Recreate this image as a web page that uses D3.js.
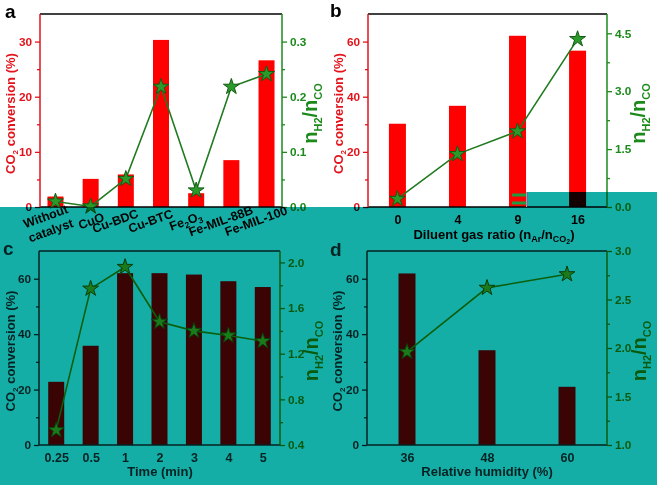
<!DOCTYPE html>
<html><head><meta charset="utf-8">
<script src="https://cdn.jsdelivr.net/npm/d3@7"></script>
<style>
body{margin:0;background:#fff}
svg{display:block;font-family:"Liberation Sans",Arial,sans-serif;font-weight:bold}
</style>
</head><body>
<svg id="chart" width="657" height="485"></svg>
<script>
// ---------- data ----------
const catA = ["Without catalyst","CuO","Cu-BDC","Cu-BTC","Fe2O3","Fe-MIL-88B","Fe-MIL-100"];
const convA = [1.9, 5.1, 5.9, 30.3, 2.5, 8.5, 26.6];
const ratioA = [0.010, 0.001, 0.051, 0.218, 0.030, 0.218, 0.241];

const catB = ["0","4","9","16"];
const convB = [30.2, 36.7, 62.1, 56.7];
const ratioB = [0.21, 1.37, 1.96, 4.35];

const catC = ["0.25","0.5","1","2","3","4","5"];
const convC = [22.8, 35.8, 62.0, 62.0, 61.5, 59.1, 57.0];
const ratioC = [0.53, 1.77, 1.96, 1.48, 1.40, 1.36, 1.31];

const catD = ["36","48","60"];
const convD = [61.9, 34.2, 21.0];
const ratioD = [1.96, 2.62, 2.76];

const ticksLeftA = [0,10,20,30], minorLeftA = [5,15,25];
const ticksRightA = [0,0.1,0.2,0.3], minorRightA = [0.05,0.15,0.25];
const ticksLeft = [0,20,40,60], minorLeft = [10,30,50];
const ticksRightB = [0,1.5,3.0,4.5], minorRightB = [0.75,2.25,3.75];
const ticksRightC = [0.4,0.8,1.2,1.6,2.0], minorRightC = [0.6,1.0,1.4,1.8];
const ticksRightD = [1.0,1.5,2.0,2.5,3.0], minorRightD = [1.25,1.75,2.25,2.75];

const svg = d3.select("#chart");
svg.append("rect").attr("width",657).attr("height",485).attr("fill","#fff");

function panel(c){
  const g = svg.append("g");
  const x = d3.scalePoint().domain(c.cats).range([c.x0, c.x1]).padding(c.pad);
  const yL = d3.scaleLinear().domain(c.ld).range([c.y1, c.y0]);
  const yR = d3.scaleLinear().domain(c.rd).range([c.y1, c.y0]);
  const col = c.col;

  // bars
  g.selectAll(".bar").data(c.conv).enter().append("rect")
    .attr("x",(d,i)=>x(c.cats[i]) - c.bw/2)
    .attr("width", c.bw)
    .attr("y", d=>yL(d))
    .attr("height", d=>yL(0)-yL(d))
    .attr("fill", col.bar);

  // frame lines
  g.append("line").attr("x1",c.x0).attr("x2",c.x1).attr("y1",c.y0).attr("y2",c.y0).attr("stroke",col.frame).attr("stroke-width",1.5);
  g.append("line").attr("x1",c.x0).attr("x2",c.x1).attr("y1",c.y1).attr("y2",c.y1).attr("stroke",col.frame).attr("stroke-width",1.5);

  // left axis
  const la = g.append("g").attr("transform",`translate(${c.x0},0)`)
    .call(d3.axisLeft(yL).tickValues(c.lt).tickSize(5).tickPadding(3).tickFormat(d3.format("d")));
  const lm = g.append("g").attr("transform",`translate(${c.x0},0)`)
    .call(d3.axisLeft(yL).tickValues(c.lm).tickSize(3).tickFormat(""));
  [la,lm].forEach(a=>{ a.select(".domain").remove(); a.selectAll("line").attr("stroke",col.left).attr("stroke-width",1.3); });
  la.selectAll("text").attr("fill",col.leftText).attr("font-size",11.8).attr("font-weight","bold").attr("font-family","Liberation Sans, Arial, sans-serif");
  g.append("line").attr("x1",c.x0).attr("x2",c.x0).attr("y1",c.y0).attr("y2",c.y1).attr("stroke",col.left).attr("stroke-width",1.5);

  // right axis
  const ra = g.append("g").attr("transform",`translate(${c.x1},0)`)
    .call(d3.axisRight(yR).tickValues(c.rt).tickSize(5).tickPadding(3).tickFormat(d3.format(".1f")));
  const rm = g.append("g").attr("transform",`translate(${c.x1},0)`)
    .call(d3.axisRight(yR).tickValues(c.rm).tickSize(3).tickFormat(""));
  [ra,rm].forEach(a=>{ a.select(".domain").remove(); a.selectAll("line").attr("stroke",col.right).attr("stroke-width",1.3); });
  ra.selectAll("text").attr("fill",col.right).attr("font-size",11.8).attr("font-weight","bold").attr("font-family","Liberation Sans, Arial, sans-serif");
  g.append("line").attr("x1",c.x1).attr("x2",c.x1).attr("y1",c.y0).attr("y2",c.y1).attr("stroke",col.right).attr("stroke-width",1.5);

  // x tick labels
  if(c.rotLabels){
    c.cats.forEach((cat,i)=>{
      const cx = x(cat);
      if(cat === "Without catalyst"){
        const t = g.append("text").attr("transform",`translate(${cx-6},${227}) rotate(-20)`)
          .attr("text-anchor","middle").attr("font-size",12.5).attr("fill",col.text);
        t.append("tspan").attr("x",0).attr("y",-7).text("Without");
        t.append("tspan").attr("x",0).attr("y",8).text("catalyst");
      } else {
        const off = cat === "CuO" ? 2 : -9;
        const t = g.append("text").attr("transform",`translate(${cx+off},${225}) rotate(-20)`)
          .attr("text-anchor","middle").attr("font-size",12.5).attr("fill",col.text);
        if(cat === "Fe2O3"){
          t.append("tspan").text("Fe");
          t.append("tspan").attr("dy",3).attr("font-size",8.5).text("2");
          t.append("tspan").attr("dy",-3).text("O");
          t.append("tspan").attr("dy",3).attr("font-size",8.5).text("3");
        } else t.text(cat);
      }
    });
  } else {
    const xa = g.append("g").attr("transform",`translate(0,${c.y1})`)
      .call(d3.axisBottom(x).tickSize(0).tickPadding(8));
    xa.select(".domain").remove();
    xa.selectAll("text").attr("fill",col.text).attr("font-size",12.5).attr("font-weight","bold").attr("font-family","Liberation Sans, Arial, sans-serif");
  }

  // line + stars
  const pts = c.ratio.map((v,i)=>[x(c.cats[i]), yR(v)]);
  g.append("path").attr("d", d3.line()(pts)).attr("fill","none").attr("stroke",col.line).attr("stroke-width",1.6);
  g.selectAll(".star").data(pts).enter().append("path")
    .attr("transform",d=>`translate(${d[0]},${d[1]})`)
    .attr("d", d3.symbol(d3.symbolStar, 78)())
    .attr("fill", col.starFill).attr("stroke", col.starStroke).attr("stroke-width",1);

  // axis titles
  const my = (c.y0 + c.y1)/2 + 3;
  const lt = g.append("text").attr("transform",`translate(${c.ltx},${my}) rotate(-90)`)
    .attr("text-anchor","middle").attr("font-size",13).attr("fill",col.leftText);
  lt.append("tspan").text("CO");
  lt.append("tspan").attr("dy",3).attr("font-size",8).text("2");
  lt.append("tspan").attr("dy",-3).text(" conversion (%)");

  const rtt = g.append("text").attr("transform",`translate(${c.rtx},${my}) rotate(-90)`)
    .attr("text-anchor","middle").attr("font-size",20).attr("fill",col.right);
  rtt.append("tspan").text("n");
  rtt.append("tspan").attr("dy",5).attr("font-size",11).text("H2");
  rtt.append("tspan").attr("dy",-5).text("/n");
  rtt.append("tspan").attr("dy",5).attr("font-size",11).text("CO");

  if(c.xTitle){
    const xt = g.append("text").attr("x",c.xtx).attr("y",c.xty).attr("text-anchor","middle")
      .attr("font-size",13).attr("fill",col.text);
    c.xTitle(xt);
  }
  g.append("text").attr("x",c.lx).attr("y",c.ly).attr("font-size",19).attr("fill",col.text).text(c.letter);
}

const colTop = {bar:"#ff0000", frame:"#000", left:"#e3131b", leftText:"#e3131b", right:"#1b8a1b",
  line:"#1f7a1f", starFill:"#2a9a2a", starStroke:"#145a14", text:"#000"};
const colBot = {bar:"#3a0405", frame:"#042020", left:"#042020", leftText:"#052222", right:"#0a5a0e",
  line:"#0b5e0b", starFill:"#1b7a1b", starStroke:"#0a3e0a", text:"#052222"};

panel({x0:40,x1:282,y0:14,y1:207,cats:catA,conv:convA,ratio:ratioA,pad:0.44,bw:16,
  ld:[0,35],lt:ticksLeftA,lm:minorLeftA,rd:[0,0.35],rt:ticksRightA,rm:minorRightA,
  col:colTop,rotLabels:true,ltx:15,rtx:317,letter:"a",lx:5,ly:18});

panel({x0:368,x1:607,y0:14,y1:207,cats:catB,conv:convB,ratio:ratioB,pad:0.49,bw:17,
  ld:[0,70],lt:ticksLeft,lm:minorLeft,rd:[0,5],rt:ticksRightB,rm:minorRightB,
  col:colTop,ltx:343,rtx:645,letter:"b",lx:330,ly:17,
  xtx:494,xty:239,xTitle:t=>{
    t.append("tspan").text("Diluent gas ratio (n");
    t.append("tspan").attr("dy",3).attr("font-size",9).text("Ar");
    t.append("tspan").attr("dy",-3).text("/n");
    t.append("tspan").attr("dy",3).attr("font-size",9).text("CO");
    t.append("tspan").attr("dy",2).attr("font-size",7).text("2");
    t.append("tspan").attr("dy",-5).text(")");
  }});

// small glitch marks in panel b
svg.append("rect").attr("x",512).attr("y",193.5).attr("width",14).attr("height",3).attr("fill","#1f9a40");
svg.append("rect").attr("x",512).attr("y",201.5).attr("width",14).attr("height",3).attr("fill","#1f9a40");
svg.append("rect").attr("x",526).attr("y",192).attr("width",1.2).attr("height",15).attr("fill","#f07aa0");

// teal overlay (multiply)
const ov = svg.append("g").style("mix-blend-mode","multiply");
ov.append("rect").attr("x",0).attr("y",207).attr("width",657).attr("height",278).attr("fill","#14aea7");
ov.append("rect").attr("x",527).attr("y",192).attr("width",130).attr("height",15).attr("fill","#14aea7");

panel({x0:39,x1:280,y0:251,y1:445,cats:catC,conv:convC,ratio:ratioC,pad:0.5,bw:16,
  ld:[0,70],lt:ticksLeft,lm:minorLeft,rd:[0.4,2.1],rt:ticksRightC,rm:minorRightC,
  col:colBot,ltx:15,rtx:318,letter:"c",lx:3,ly:255,
  xtx:160,xty:476,xTitle:t=>t.text("Time (min)")});

panel({x0:367,x1:607,y0:251,y1:445,cats:catD,conv:convD,ratio:ratioD,pad:0.5,bw:17,
  ld:[0,70],lt:ticksLeft,lm:minorLeft,rd:[1.0,3.0],rt:ticksRightD,rm:minorRightD,
  col:colBot,ltx:342,rtx:646,letter:"d",lx:330,ly:256,
  xtx:487,xty:476,xTitle:t=>t.text("Relative humidity (%)")});
</script>
</body></html>
